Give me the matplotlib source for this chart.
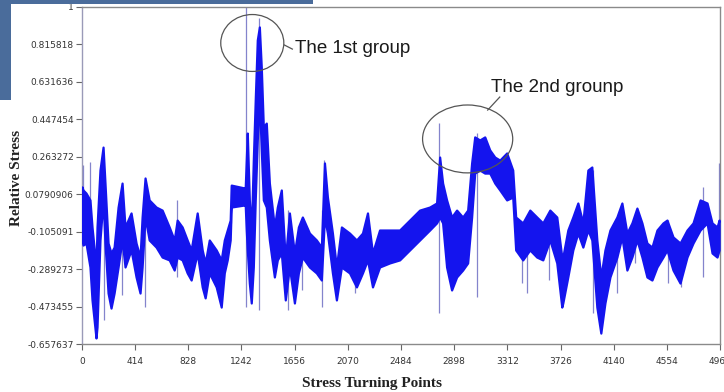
import matplotlib
matplotlib.use("Agg")
import matplotlib.pyplot as plt
from matplotlib.patches import Ellipse, Rectangle

# Dense stress record summarised as its upper/lower envelope
turning_points = [0, 8, 31, 62, 78, 109, 117, 140, 164, 179, 203, 226, 250, 281, 312, 335,
                  382, 421, 452, 468, 491, 523, 577, 624, 679, 718, 741, 780, 819, 850,
                  897, 936, 959, 991, 1045, 1084, 1108, 1131, 1154, 1162, 1264, 1271,
                  1279, 1287, 1303, 1318, 1334, 1349, 1365, 1381, 1396, 1412, 1435, 1459,
                  1498, 1521, 1552, 1583, 1615, 1654, 1685, 1716, 1771, 1825, 1864, 1888,
                  1911, 1950, 1981, 2020, 2083, 2137, 2184, 2223, 2262, 2317, 2395, 2473,
                  2551, 2629, 2707, 2761, 2785, 2808, 2839, 2878, 2917, 2964, 3003, 3034,
                  3058, 3097, 3136, 3175, 3214, 3253, 3307, 3354, 3377, 3432, 3487, 3541,
                  3588, 3643, 3697, 3736, 3744, 3783, 3822, 3861, 3900, 3939, 3970, 4009,
                  4040, 4072, 4111, 4165, 4204, 4243, 4282, 4321, 4360, 4399, 4438, 4477,
                  4524, 4555, 4602, 4657, 4711, 4758, 4813, 4867, 4906, 4945, 4961]
stress_upper = [0.115, 0.100, 0.085, 0.051, -0.082, -0.279, -0.082, 0.198, 0.311, 0.134,
                -0.161, -0.210, -0.181, 0.016, 0.134, -0.082, -0.013, -0.161, -0.230, -0.033,
                0.159, 0.051, 0.016, 0.001, -0.082, -0.146, -0.048, -0.082, -0.146, -0.195,
                -0.013, -0.195, -0.259, -0.146, -0.195, -0.244, -0.146, -0.097, -0.048, 0.124,
                0.110, 0.110, 0.247, 0.380, 0.051, -0.112, 0.247, 0.543, 0.838, 0.902,
                0.705, 0.410, 0.429, 0.134, -0.082, 0.016, 0.100, -0.244, -0.013, -0.210,
                -0.082, -0.033, -0.112, -0.146, -0.181, 0.233, 0.065, -0.112, -0.279, -0.082,
                -0.112, -0.146, -0.112, -0.013, -0.210, -0.097, -0.097, -0.097, -0.048, 0.001,
                0.016, 0.036, 0.262, 0.134, 0.051, -0.033, 0.001, -0.033, 0.001, 0.233,
                0.361, 0.346, 0.361, 0.297, 0.262, 0.247, 0.282, 0.198, -0.033, -0.062,
                0.001, -0.033, -0.062, 0.001, -0.033, -0.230, -0.230, -0.097, -0.033, 0.036,
                -0.062, 0.198, 0.213, -0.146, -0.328, -0.195, -0.097, -0.033, 0.036, -0.112,
                -0.062, 0.011, -0.062, -0.161, -0.181, -0.097, -0.062, -0.048, -0.131, -0.161,
                -0.097, -0.062, 0.051, 0.036, -0.062, -0.082, -0.048]
stress_lower = [-0.146, -0.171, -0.161, -0.279, -0.441, -0.628, -0.574, -0.146, 0.051, -0.161,
                -0.407, -0.481, -0.407, -0.279, -0.146, -0.279, -0.195, -0.328, -0.407, -0.279,
                -0.033, -0.146, -0.181, -0.230, -0.244, -0.294, -0.230, -0.244, -0.308, -0.343,
                -0.210, -0.377, -0.431, -0.308, -0.377, -0.476, -0.308, -0.244, -0.146, 0.016,
                0.026, 0.026, -0.097, -0.195, -0.358, -0.456, -0.279, 0.051, 0.346, 0.543,
                0.297, 0.051, 0.016, -0.146, -0.328, -0.244, -0.210, -0.441, -0.279, -0.456,
                -0.308, -0.230, -0.279, -0.308, -0.343, -0.033, -0.112, -0.308, -0.441, -0.279,
                -0.308, -0.377, -0.308, -0.244, -0.377, -0.279, -0.259, -0.244, -0.195, -0.146,
                -0.097, -0.062, -0.033, -0.062, -0.279, -0.392, -0.328, -0.294, -0.259, -0.033,
                0.183, 0.198, 0.183, 0.183, 0.134, 0.100, 0.051, 0.065, -0.195, -0.244,
                -0.195, -0.230, -0.244, -0.146, -0.259, -0.476, -0.456, -0.328, -0.195, -0.112,
                -0.181, -0.097, -0.146, -0.476, -0.604, -0.456, -0.328, -0.230, -0.131, -0.294,
                -0.230, -0.146, -0.230, -0.328, -0.343, -0.279, -0.230, -0.195, -0.294, -0.358,
                -0.230, -0.161, -0.097, -0.062, -0.210, -0.230, -0.195]

# Isolated extreme cycles (thin strokes)
spike_x = [8, 62, 172, 312, 491, 741, 1162, 1279, 1381, 1607, 1716, 1872, 1888, 2129,
           2777, 3073, 3424, 3463, 3635, 3978, 4165, 4306, 4563, 4664, 4836, 4961]
spike_top = [0.223, 0.238, 0.200, 0.100, 0.100, 0.051, 0.120, 1.000, 0.946, 0.000, -0.050,
             0.000, 0.247, -0.150, 0.429, 0.380, -0.100, -0.100, -0.050, 0.200, -0.050,
             -0.050, -0.050, -0.150, 0.115, 0.233]
spike_bottom = [-0.050, 0.000, -0.540, -0.417, -0.476, -0.328, -0.062, -0.476, -0.490, -0.490,
                -0.392, -0.476, 0.000, -0.407, -0.505, -0.426, -0.358, -0.407, -0.343, -0.505,
                -0.407, -0.259, -0.358, -0.377, -0.328, -0.200]

x_ticks = [0, 414, 828, 1242, 1656, 2070, 2484, 2898, 3312, 3726, 4140, 4554, 4968]
y_ticks = [1.0, 0.815818, 0.631636, 0.447454, 0.263272, 0.0790906, -0.105091, -0.289273,
           -0.473455, -0.657637]
y_tick_labels = ["1", "0.815818", "0.631636", "0.447454", "0.263272", "0.0790906",
                 "-0.105091", "-0.289273", "-0.473455", "-0.657637"]

W, H = 724, 392
fig = plt.figure(figsize=(W / 100, H / 100), dpi=100)
ax = fig.add_axes([82 / W, 1 - 344 / H, (720 - 82) / W, (344 - 7) / H])

band_color = "#1414ee"
ax.fill_between(turning_points, stress_lower, stress_upper, color=band_color,
                linewidth=1.6, edgecolor=band_color, zorder=3)
ax.vlines(spike_x, spike_bottom, spike_top, colors="#8484cc", linewidth=0.9, zorder=2)

ax.set_xlim(0, 4968)
ax.set_ylim(-0.657637, 1.0)
ax.set_xticks(x_ticks)
ax.set_xticklabels([str(t) for t in x_ticks])
ax.set_yticks(y_ticks)
ax.set_yticklabels(y_tick_labels)
ax.tick_params(axis="both", direction="out", length=4, width=0.8, color="#666666",
               labelsize=6.5, labelcolor="#333333", pad=2)
ax.tick_params(axis="x", pad=5)
for name, sp in ax.spines.items():
    sp.set_color("#8a8a8a")
    sp.set_linewidth(1.0)
ax.spines["left"].set_color("#9a9ab8")

# Highlighted groups
ax.add_patch(Ellipse((1326, 0.823), 491, 0.280, fill=False, edgecolor="#555555",
                     linewidth=0.9, zorder=5))
ax.plot([1576, 1638], [0.813, 0.793], color="#555555", linewidth=0.9, zorder=5)
ax.text(1661, 0.798, "The 1st group", fontsize=13.5, family="Liberation Sans",
        color="#1a1a1a", va="center", ha="left", zorder=6)

ax.add_patch(Ellipse((3003, 0.351), 702, 0.334, fill=False, edgecolor="#555555",
                     linewidth=0.9, zorder=5))
ax.plot([3159, 3253], [0.493, 0.557], color="#555555", linewidth=0.9, zorder=5)
ax.text(3182, 0.602, "The 2nd grounp", fontsize=13.5, family="Liberation Sans",
        color="#1a1a1a", va="center", ha="left", zorder=6)

fig.text(372 / W, 1 - 383 / H, "Stress Turning Points", fontsize=11, fontweight="bold",
         family="Liberation Serif", ha="center", va="center", color="#222222")
fig.text(17 / W, 1 - 178 / H, "Relative Stress", fontsize=11, fontweight="bold",
         family="Liberation Serif", ha="center", va="center", rotation=90, color="#222222")

# Slide frame corner
fig.patches.append(Rectangle((0, 1 - 4 / H), 313 / W, 4 / H, transform=fig.transFigure,
                             facecolor="#4a6c9b", edgecolor="none", zorder=10))
fig.patches.append(Rectangle((0, 1 - 100 / H), 11 / W, 100 / H, transform=fig.transFigure,
                             facecolor="#4a6c9b", edgecolor="none", zorder=10))

fig.savefig("out.png", dpi=100)
